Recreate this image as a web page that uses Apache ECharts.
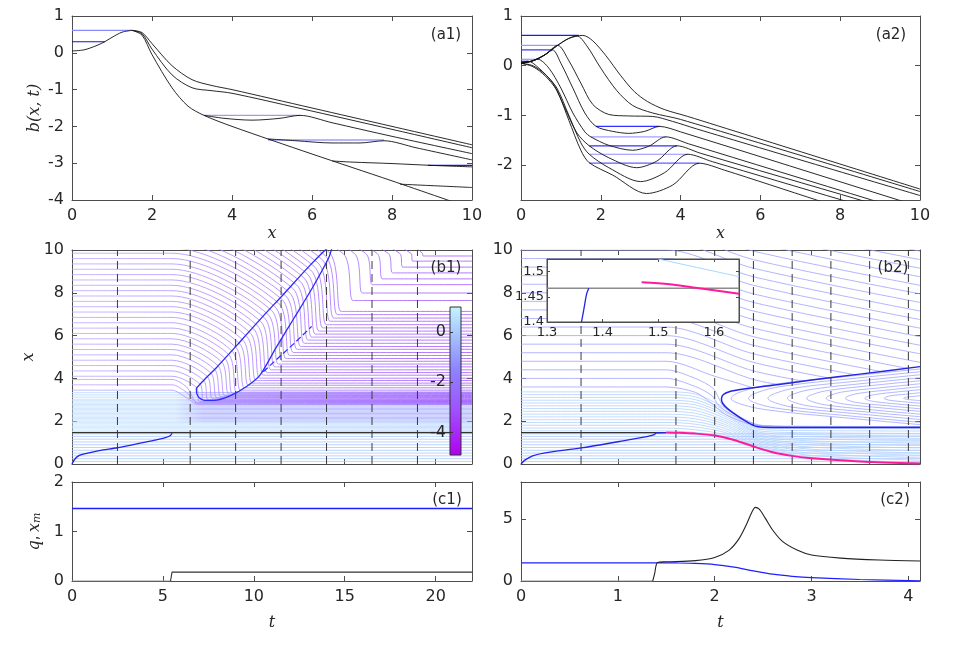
<!DOCTYPE html>
<html><head><meta charset="utf-8">
<script src="https://cdn.jsdelivr.net/npm/echarts@6/dist/echarts.min.js"></script>
<style>html,body{margin:0;padding:0;background:#fff}#c{width:969px;height:647px}</style>
</head><body><div id="c"></div><script>
// ---------------- data: panel a1 ----------------
const a1Base = [[0,0.05],[0.3,0.08],[0.6,0.19],[0.8,0.29],[1.0,0.42],[1.25,0.56],[1.5,0.61]];
const a1Top = [[1.5,0.61],[1.75,0.55],[2.0,0.25],[2.5,-0.35],[3.0,-0.73],[3.5,-0.89],[4.0,-1.0],[6.0,-1.5],[8.0,-2.0],[10,-2.5]];
const a1Second = [[1.5,0.61],[1.75,0.52],[2.0,0.1],[2.5,-0.6],[3.0,-0.95],[3.5,-1.03],[4.0,-1.1],[5.7,-1.51],[8.0,-2.08],[10,-2.58]];
const a1Envelope = [[1.5,0.61],[1.75,0.48],[2.0,-0.05],[2.5,-0.95],[2.9,-1.45],[3.3,-1.7],[4.0,-2.0],[6.0,-2.75],[8.0,-3.48],[10,-4.23]];
const a1Bed1 = [[3.3,-1.7],[3.8,-1.78],[4.5,-1.83],[5.2,-1.78],[5.7,-1.7],[6.5,-1.9],[8,-2.27],[10,-2.74]];
const a1Bed2 = [[4.9,-2.34],[5.6,-2.39],[6.5,-2.45],[7.2,-2.45],[7.8,-2.39],[8.6,-2.58],[10,-2.91]];
const a1Bed3 = [[6.5,-2.94],[7.0,-2.97],[8.0,-3.01],[9.0,-3.06],[10,-3.1]];
const a1Bed4 = [[8.2,-3.57],[9.0,-3.61],[10,-3.66]];
const a1LakeLevel = [0.61,0.3,-1.7,-2.37,-3.06];
const a1LakeStart = [0,0,3.3,4.9,8.9];
const a1LakeEnd = [1.5,0.82,5.7,7.8,10];
// ---------------- data: panel a2 ----------------
const a2T0 = [[0,0.05],[0.3,0.1],[0.6,0.22],[0.9,0.4],[1.2,0.55],[1.55,0.61],[1.8,0.5],[2.13,0.2],[2.5,-0.2],[2.84,-0.52],[3.17,-0.72],[3.59,-0.88],[4.18,-1.02],[10,-2.48]];
const a2T1 = [[0,0.05],[0.3,0.1],[0.6,0.22],[0.9,0.4],[1.2,0.55],[1.4,0.6],[1.65,0.4],[2.0,-0.05],[2.4,-0.5],[2.8,-0.8],[3.3,-0.95],[4.0,-1.08],[10,-2.53]];
const a2T2 = [[0,0.05],[0.3,0.1],[0.6,0.22],[0.92,0.41],[1.2,0.1],[1.5,-0.35],[1.8,-0.78],[2.2,-0.98],[2.7,-1.01],[3.3,-1.02],[3.8,-1.12],[4.4,-1.27],[10,-2.61]];
const a2T3 = [[0,0.05],[0.3,0.1],[0.6,0.22],[0.79,0.32],[1.0,0.05],[1.3,-0.45],[1.6,-0.95],[1.88,-1.22],[2.3,-1.32],[2.7,-1.36],[3.1,-1.32],[3.47,-1.22],[4.0,-1.33],[9.46,-2.7],[10,-2.83]];
const a2T4 = [[0,0.05],[0.2,0.08],[0.42,0.13],[0.7,-0.05],[1.0,-0.45],[1.3,-0.95],[1.6,-1.33],[1.75,-1.43],[2.2,-1.6],[2.8,-1.7],[3.2,-1.62],[3.63,-1.43],[4.2,-1.57],[8.79,-2.7],[9.5,-2.87]];
const a2T5 = [[0,0.07],[0.18,0.09],[0.45,-0.05],[0.8,-0.35],[1.1,-0.85],[1.4,-1.35],[1.71,-1.61],[2.2,-1.85],[2.9,-2.05],[3.4,-1.92],[3.91,-1.61],[4.5,-1.76],[8.5,-2.7],[9.2,-2.87]];
const a2T6 = [[0,0.05],[0.3,0.0],[0.6,-0.17],[0.9,-0.45],[1.2,-1.0],[1.5,-1.55],[1.71,-1.78],[2.2,-2.05],[3.0,-2.33],[3.6,-2.15],[4.18,-1.78],[4.8,-1.93],[8.04,-2.7],[8.8,-2.88]];
const a2T7 = [[0,0.05],[0.3,-0.02],[0.6,-0.2],[0.9,-0.5],[1.2,-1.1],[1.5,-1.7],[1.71,-1.95],[2.3,-2.2],[3.15,-2.57],[3.8,-2.4],[4.47,-1.96],[5.1,-2.1],[7.41,-2.7],[8.2,-2.9]];
const a2LakeLevel = [0.61,0.41,0.32,0.13,0.09,-1.22,-1.43,-1.61,-1.78,-1.96];
const a2LakeStart = [0,0,0,0,0,1.88,1.75,1.71,1.71,1.71];
const a2LakeEnd = [1.45,0.92,0.79,0.42,0.18,3.47,3.63,3.91,4.18,4.47];
// ---------------- data: panel b1 ----------------
const b1LowLevels = [0.12,0.25,0.38,0.51,0.64,0.77,0.9,1.03,1.16,1.29,1.41];
const b1BandLevels = [1.52,1.58,1.64,1.7,1.76,1.82,1.88,1.94,2.0,2.06,2.12,2.18,2.24,2.3,2.36,2.42,2.48,2.54,2.6,2.66,2.72,2.78,2.84,2.9,2.96,3.02,3.1,3.18,3.26,3.34];
const b1FanLevel = [3.45,3.7,3.95];
const b1FanMid = [3.1,3.35,3.6];
const b1FanEnd = [2.8,2.84,2.88];
const b1StartLevel = [4.1,4.35,4.6,4.85,5.1,5.35,5.6,5.85,6.1,6.35,6.6,6.85,7.1,7.35,7.6,7.85,8.1,8.35,8.6,8.85,9.1,9.35,9.6,9.85,10.1,10.35,10.6,10.85,11.1,11.35,11.6,11.85,12.1,12.35,12.6,12.85,13.1,13.35,13.6,13.85,14.1,14.35,14.6,14.85,15.1,15.35];
const b1ShockT = [6.86,7.05,7.25,7.45,7.64,7.84,8.03,8.23,8.42,8.62,8.81,9.01,9.21,9.40,9.60,9.79,9.99,10.18,10.38,10.58,10.77,10.97,11.16,11.36,11.55,11.75,11.94,12.14,12.34,12.53,12.73,12.92,13.12,13.31,13.51,13.71,13.9,14.1,14.9,15.53,16.15,16.78,17.4,18.03,18.65,19.28];
const b1ShockX = [3.56,3.73,3.90,4.08,4.25,4.42,4.59,4.77,4.93,5.11,5.27,5.45,5.63,5.79,5.97,6.14,6.31,6.48,6.66,6.83,7.0,7.18,7.35,7.52,7.69,7.86,8.03,8.21,8.38,8.55,8.72,8.90,9.07,9.24,9.41,9.59,9.76,9.93,9.84,9.84,9.84,9.84,9.84,9.84,9.84,9.84];
const b1LandT = [7.0,7.24,7.48,7.72,7.96,8.18,8.4,8.63,8.82,9.06,9.27,9.48,9.7,9.9,10.12,10.32,10.53,10.73,10.94,11.15,11.35,11.57,11.77,11.97,12.17,12.38,12.58,12.78,12.99,13.19,13.39,13.59,13.8,13.99,14.2,14.4,14.6,14.8,15.45,15.97,16.52,17.07,17.63,18.19,18.74,19.3];
const b1EndLevel = [2.92,2.96,3.0,3.05,3.1,3.15,3.2,3.26,3.3,3.36,3.45,3.56,3.68,3.78,3.9,4.01,4.15,4.27,4.40,4.54,4.67,4.8,4.93,5.07,5.21,5.36,5.49,5.64,5.79,5.93,6.07,6.21,6.36,6.51,6.67,6.82,6.98,7.13,7.64,7.99,8.38,8.65,8.93,9.2,9.48,9.72];
const b1Front = [[0,0],[0.15,0.22],[0.4,0.4],[0.8,0.5],[1.5,0.63],[2.5,0.76],[3.5,0.93],[4.5,1.1],[5.1,1.22],[5.4,1.32],[5.5,1.44]];
const b1Loop = [[6.84,3.54],[7.3,3.96],[7.94,4.5],[9.23,5.7],[10.5,6.9],[11.6,7.9],[13.0,9.2],[14.0,10.05],[14.3,10.1],[14.1,9.6],[13.2,8.2],[12.2,6.8],[11.2,5.4],[10.34,4.15],[9.6,3.62],[8.69,3.18],[7.8,2.97],[7.3,2.97],[7.0,3.1],[6.86,3.3],[6.84,3.54]];
const b1LoopInner = [[10.52,4.31],[11.4,5.0],[12.3,5.7],[13.18,6.43]];
const b1Dashed = [2.5,6.5,9,11.5,14,16.5,19];
const xmLevel = 1.467;
// ---------------- data: panel b2 ----------------
const b2LowLevels = [0.12,0.25,0.38,0.51,0.64,0.77,0.9,1.03,1.16,1.29,1.41];
const b2BandT = [0,1.5,1.8,2.1,2.45,3.0,4.12];
const b2Band = [
 [1.55,1.55,1.47,1.29,0.77,0.31,0.06],
 [1.68,1.68,1.60,1.38,0.84,0.40,0.18],
 [1.81,1.81,1.73,1.48,0.90,0.50,0.29],
 [1.94,1.94,1.86,1.57,0.97,0.60,0.41],
 [2.07,2.07,1.98,1.67,1.04,0.69,0.52],
 [2.20,2.20,2.11,1.77,1.10,0.79,0.63],
 [2.33,2.33,2.24,1.86,1.17,0.89,0.75],
 [2.46,2.46,2.37,1.96,1.23,0.98,0.86],
 [2.59,2.59,2.50,2.05,1.30,1.08,0.97],
 [2.72,2.72,2.63,2.15,1.36,1.18,1.09],
 [2.85,2.85,2.76,2.25,1.43,1.27,1.20],
 [2.98,2.98,2.88,2.34,1.49,1.37,1.31],
 [3.11,3.11,3.01,2.44,1.55,1.46,1.43],
 [3.24,3.24,3.14,2.53,1.62,1.56,1.54],
 [3.37,3.37,3.27,2.63,1.68,1.66,1.65]];
const b2Nose1 = [[0,3.6],[1.3,3.6],[1.5,3.6],[1.8,3.35],[1.95,2.9],[2.1,2.35],[2.3,1.95],[2.5,1.78],[3.0,1.74],[4.12,1.73]];
const b2Nose2 = [[0,4.0],[1.3,4.0],[1.5,4.0],[1.8,3.62],[1.97,3.2],[2.03,2.8],[2.12,2.45],[2.3,2.05],[2.5,1.8],[3.0,1.76],[4.12,1.75]];
const b2Nose3 = [[0,4.4],[1.3,4.4],[1.5,4.4],[1.8,4.0],[1.98,3.55],[2.04,3.1],[2.08,2.75],[2.18,2.4],[2.35,2.0],[2.45,1.8],[3.0,1.72],[4.12,1.72]];
const b2Nose4 = [[0,4.8],[1.3,4.8],[1.5,4.8],[2.0,4.1],[2.4,3.56]];
const b2UpX0 = [5.2,5.6,6.0,6.4,6.8,7.2];
const b2UpMid = [3.95,4.35,4.75,5.15,5.55,5.95];
const b2UpEndT = [2.67,2.93,3.19,3.46,3.72,3.99];
const b2UpEndX = [3.70,3.86,4.01,4.16,4.32,4.47];
const b2RightX0 = [7.6,8.0,8.4,8.8,9.2,9.6,10.0,10.4,10.8,11.2,11.6,12.0,12.4,12.8];
const b2RightMid = [6.35,6.75,7.15,7.55,7.95,8.35,8.75,9.15,9.55,9.95,10.35,10.75,11.15,11.55];
const b2RightEnd = [4.75,5.15,5.55,5.95,6.35,6.75,7.15,7.55,7.95,8.35,8.75,9.15,9.55,9.95];
const b2Nest = [
 [[4.12,4.44],[3.34,4.08],[2.56,3.69],[2.27,3.37],[2.17,3.07],[2.27,2.80],[2.56,2.52],[3.34,2.16],[4.12,1.84]],
 [[4.12,4.31],[3.41,3.99],[2.70,3.63],[2.44,3.34],[2.35,3.07],[2.44,2.82],[2.70,2.57],[3.41,2.24],[4.12,1.95]],
 [[4.12,4.17],[3.49,3.88],[2.86,3.57],[2.63,3.31],[2.55,3.07],[2.63,2.85],[2.86,2.62],[3.49,2.34],[4.12,2.08]],
 [[4.12,4.03],[3.57,3.78],[3.02,3.50],[2.82,3.28],[2.75,3.07],[2.82,2.88],[3.02,2.68],[3.57,2.43],[4.12,2.21]],
 [[4.12,3.89],[3.65,3.68],[3.18,3.44],[3.01,3.25],[2.95,3.07],[3.01,2.91],[3.18,2.74],[3.65,2.52],[4.12,2.33]],
 [[4.12,3.75],[3.73,3.57],[3.34,3.38],[3.20,3.22],[3.15,3.07],[3.20,2.94],[3.34,2.80],[3.73,2.62],[4.12,2.46]],
 [[4.12,3.61],[3.81,3.47],[3.50,3.31],[3.39,3.19],[3.35,3.07],[3.39,2.96],[3.50,2.85],[3.81,2.71],[4.12,2.58]],
 [[4.12,3.47],[3.89,3.37],[3.66,3.25],[3.58,3.16],[3.55,3.07],[3.58,2.99],[3.66,2.91],[3.89,2.80],[4.12,2.71]],
 [[4.12,3.33],[3.97,3.26],[3.82,3.19],[3.77,3.13],[3.75,3.07],[3.77,3.02],[3.82,2.97],[3.97,2.90],[4.12,2.84]],
 [[4.12,3.19],[4.05,3.16],[3.98,3.12],[3.96,3.10],[3.95,3.07],[3.96,3.05],[3.98,3.02],[4.05,2.99],[4.12,2.96]]];
const b2Loop = [[4.12,4.55],[3.5,4.2],[3.0,3.92],[2.6,3.68],[2.3,3.5],[2.15,3.38],[2.09,3.25],[2.07,3.05],[2.08,2.85],[2.13,2.6],[2.22,2.3],[2.32,2.0],[2.41,1.78],[2.5,1.72],[3.0,1.7],[4.12,1.7]];
const b2Front = [[0,0],[0.04,0.18],[0.12,0.38],[0.25,0.52],[0.62,0.75],[1.0,1.04],[1.3,1.28],[1.37,1.36],[1.4,1.45],[1.5,1.47]];
const xmDrop = [[1.5,1.47],[1.6,1.46],[1.8,1.42],[2.0,1.33],[2.2,1.12],[2.4,0.82],[2.6,0.55],[2.8,0.38],[3.0,0.27],[3.5,0.12],[4.12,0.02]];
const b2Dashed = [0.62,1.6,2.0,2.4,2.8,3.2,3.6,4.0];
// ---------------- data: inset ----------------
const insetXm = [[1.3,1.467],[1.645,1.467]];
const insetFront = [[1.362,1.4],[1.367,1.43],[1.371,1.455],[1.375,1.467]];
const insetDrop = [[1.47,1.479],[1.52,1.475],[1.56,1.469],[1.6,1.463],[1.645,1.456]];
const insetLight = [[1.5,1.525],[1.645,1.49]];
// ---------------- data: panels c ----------------
const c1Xm = [[0,1.465],[22,1.465]];
const c1QZero = [[0,0],[5.42,0]];
const c1Q = [[5.42,0],[5.5,0.18],[22,0.18]];
const c2QZero = [[0,0],[1.36,0]];
const c2Q = [[1.36,0],[1.38,0.6],[1.41,1.5],[1.5,1.55],[1.8,1.65],[2.0,1.9],[2.15,2.5],[2.25,3.4],[2.33,4.6],[2.38,5.5],[2.42,5.95],[2.46,5.8],[2.52,5.1],[2.6,4.1],[2.7,3.2],[2.85,2.5],[3.0,2.1],[3.3,1.85],[3.7,1.7],[4.12,1.62]];
const c2Xm = [[0,1.47]].concat(xmDrop);
// ---------------- colorbar ----------------
const cbarMax = 1, cbarMin = -4.9;
const cbarTicks = [-4,-2,0];

// ---------------- build ----------------
const FONT = 'DejaVu Sans';
const AX = '#4d4d4d';
const grids = [
  {left:72, top:16, width:400, height:184},
  {left:521, top:16, width:399, height:184},
  {left:72, top:250, width:400, height:214},
  {left:521, top:250, width:399, height:214},
  {left:72, top:482, width:400, height:99},
  {left:521, top:482, width:399, height:99},
  {left:547, top:259, width:192, height:63, show:true, backgroundColor:'#fff', borderColor:AX, borderWidth:1, z:10},
  {left:450, top:307, width:11, height:148, z:20}
];
const axisSpec = [
  {x:[0,10,[0,2,4,6,8,10],true], y:[-4,1,[-4,-3,-2,-1,0,1],true]},
  {x:[0,10,[0,2,4,6,8,10],true], y:[-2.7,1,[-2,-1,0,1],true]},
  {x:[0,22,[0,5,10,15,20],false], y:[0,10,[0,2,4,6,8,10],true]},
  {x:[0,4.12,[0,1,2,3,4],false], y:[0,10,[0,2,4,6,8,10],true]},
  {x:[0,22,[0,5,10,15,20],true], y:[0,2,[0,1,2],true]},
  {x:[0,4.12,[0,1,2,3,4],true], y:[0,8,[0,5],true]},
  {x:[1.3,1.645,[1.3,1.4,1.5,1.6],true], y:[1.4,1.525,[1.4,1.45,1.5],true]}
];
function mkAxis(gi, spec, pos, labels, extra){
  const a = {type:'value', gridIndex:gi, min:spec[0], max:spec[1], position:pos,
    axisLine:{show:true, onZero:false, lineStyle:{color:AX, width:1}},
    axisTick:{show:true, inside:true, length:5, lineStyle:{color:AX}, customValues:spec[2]},
    axisLabel:{show:labels, customValues:spec[2], color:'#262626', fontSize:16, fontFamily:FONT, margin:8},
    splitLine:{show:false}};
  return Object.assign(a, extra||{});
}
const nameStyle = {fontFamily:'DejaVu Serif', fontStyle:'italic', fontSize:16, color:'#262626'};
const xAxes = [], yAxes = [];
axisSpec.forEach((s,gi)=>{
  const xe = {}, ye = {};
  if (gi===0||gi===1) Object.assign(xe,{name:'x', nameLocation:'middle', nameGap:26, nameTextStyle:nameStyle});
  if (gi===4||gi===5) Object.assign(xe,{name:'t', nameLocation:'middle', nameGap:34, nameTextStyle:nameStyle});
  if (gi===0) Object.assign(ye,{name:'b(x, t)', nameLocation:'middle', nameGap:29, nameRotate:90, nameTextStyle:nameStyle});
  if (gi===2) Object.assign(ye,{name:'x', nameLocation:'middle', nameGap:35, nameRotate:90, nameTextStyle:nameStyle});
  if (gi===4) Object.assign(ye,{name:'{i|q}{p|,} {i|x}{s|m}', nameLocation:'middle', nameGap:29, nameRotate:90,
     nameTextStyle:{color:'#262626', rich:{i:{fontFamily:'DejaVu Serif', fontStyle:'italic', fontSize:16}, p:{fontFamily:'DejaVu Sans', fontSize:15}, s:{fontFamily:'DejaVu Serif', fontStyle:'italic', fontSize:11, verticalAlign:'bottom', padding:[6,0,0,0]}}}});
  if (gi===6){
    xe.z = 12; ye.z = 12;
    xe.axisLabel = {show:true, customValues:s.x[2], color:'#262626', fontSize:13, fontFamily:FONT, margin:4};
    ye.axisLabel = {show:true, customValues:s.y[2], color:'#262626', fontSize:13, fontFamily:FONT, margin:3};
    xe.axisTick = {show:true, inside:true, length:3, lineStyle:{color:AX}, customValues:s.x[2]};
    ye.axisTick = {show:true, inside:true, length:3, lineStyle:{color:AX}, customValues:s.y[2]};
  }
  xAxes.push(mkAxis(gi, s.x, 'bottom', s.x[3], xe));
  yAxes.push(mkAxis(gi, s.y, 'left', s.y[3], ye));
});
// colorbar axes (index 7)
xAxes.push({type:'value', gridIndex:7, min:0, max:1, show:false});
yAxes.push({type:'value', gridIndex:7, min:cbarMin, max:cbarMax, position:'left', z:20,
  axisLine:{show:false}, splitLine:{show:false},
  axisTick:{show:true, inside:true, length:3, lineStyle:{color:'#333'}, customValues:cbarTicks},
  axisLabel:{show:true, customValues:cbarTicks, color:'#262626', fontSize:16, fontFamily:FONT, margin:4}});
// mirror axes (top / right)
axisSpec.forEach((s,gi)=>{
  const ex = gi===6 ? {z:12, axisTick:{show:true, inside:true, length:3, lineStyle:{color:AX}, customValues:s.x[2]}} : {};
  const ey = gi===6 ? {z:12, axisTick:{show:true, inside:true, length:3, lineStyle:{color:AX}, customValues:s.y[2]}} : {};
  xAxes.push(mkAxis(gi, s.x, 'top', false, ex));
  yAxes.push(mkAxis(gi, s.y, 'right', false, ey));
});

const series = [];
function L(gi, data, color, width, extra){
  const s = {type:'line', xAxisIndex:gi, yAxisIndex:gi, data:data, symbol:'none', showSymbol:false,
    silent:true, animation:false, lineStyle:{color:color, width:width}, z:2};
  return Object.assign(s, extra||{});
}
const SM = {smooth:0.3};
// a1
[a1Base,a1Top,a1Second,a1Envelope,a1Bed1,a1Bed2,a1Bed3,a1Bed4].forEach(d=>series.push(L(0,d,'#111',0.9,Object.assign({z:4},SM))));
const a1LakeColor = ['#8a8aff','#1515d0','#9a9aff','#6a6aff','#1a1add'];
a1LakeLevel.forEach((y,i)=>series.push(L(0,[[a1LakeStart[i],y],[a1LakeEnd[i],y]],a1LakeColor[i],1.2,{z:3})));
// a2
[a2T0,a2T1,a2T2,a2T3,a2T4,a2T5,a2T6,a2T7].forEach(d=>series.push(L(1,d,'#111',0.9,Object.assign({z:4},SM))));
const a2LakeColor = ['#1a1aff','#9a9aff','#3a3aff','#8080ff','#1a1aff','#3030ff','#a0a0ff','#3030ff','#9090ff','#6060ff'];
a2LakeLevel.forEach((y,i)=>series.push(L(1,[[a2LakeStart[i],y],[a2LakeEnd[i],y]],a2LakeColor[i],1.2,{z:3})));
// b1
const G = echarts.graphic.LinearGradient;
b1LowLevels.forEach(y=>series.push(L(2,[[0,y],[22,y]],'#aac8ff',0.8)));
b1BandLevels.forEach(y=>{
  const col = y < 1.95 ? new G(0,0,1,0,[{offset:0,color:'#c8e6ff'},{offset:1,color:'#b4d0ff'}])
    : new G(0,0,1,0,[{offset:0,color:'#c4e0ff'},{offset:0.26,color:'#c4e0ff'},{offset:0.33,color:'#a6acff'},{offset:1,color:'#a6acff'}]);
  series.push(L(2,[[0,y],[22,y]],col,0.8));
});
function purple(){ return new G(0,0,1,0,[{offset:0,color:'#bca8ff'},{offset:0.35,color:'#ad88ff'},{offset:1,color:'#a050ff'}]); }
b1FanLevel.forEach((x0,i)=>{
  series.push(L(2,[[0,x0],[5.2,x0],[5.5,x0],[6.3,b1FanMid[i]],[6.9,b1FanEnd[i]],[7.5,b1FanEnd[i]],[22,b1FanEnd[i]]],purple(),0.8,{smooth:0.3}));
});
b1StartLevel.forEach((x0,i)=>{
  const tc=b1LandT[i], xf=b1EndLevel[i];
  series.push(L(2,[[0,x0],[5.2,x0],[5.5,x0],[b1ShockT[i],b1ShockX[i]],[tc,xf],[tc+0.6,xf],[22,xf]],purple(),0.8,{smooth:0.3}));
});
b1Dashed.forEach(t=>series.push(L(2,[[t,0],[t,10]],'#3a3a3a',1,{z:5, lineStyle:{color:'#3a3a3a', width:1, type:[8,5]}})));
series.push(L(2,[[0,xmLevel],[22,xmLevel]],'#333',1.3,{z:6}));
series.push(L(2,b1Front,'#2424e6',1.3,Object.assign({z:6},SM)));
series.push(L(2,b1Loop,'#2b2bff',1.3,{z:6, smooth:0.25}));
series.push(L(2,b1LoopInner,'#2b2bff',1.2,{z:6, lineStyle:{color:'#2b2bff', width:1.2, type:[6,3]}}));
// b2
b2LowLevels.forEach(y=>series.push(L(3,[[0,y],[4.12,y]],'#a8c6ff',0.8)));
b2Band.forEach(r=>series.push(L(3,b2BandT.map((t,j)=>[t,r[j]]),'#b0d0ff',0.8,{smooth:0.3})));
[b2Nose1,b2Nose2,b2Nose3,b2Nose4].forEach(d=>series.push(L(3,d,'#9ea2ff',0.8,{smooth:0.3})));
b2UpX0.forEach((x0,i)=>series.push(L(3,[[0,x0],[1.3,x0],[1.5,x0],[2.4,b2UpMid[i]],[b2UpEndT[i],b2UpEndX[i]]],'#9ea2ff',0.8,Object.assign({},SM))));
b2RightX0.forEach((x0,i)=>series.push(L(3,[[0,x0],[1.3,x0],[1.5,x0],[2.4,b2RightMid[i]],[4.12,b2RightEnd[i]]],'#9ea2ff',0.8,Object.assign({},SM))));
b2Nest.forEach(d=>series.push(L(3,d,'#a0a4ff',0.8,{smooth:0.4})));
b2Dashed.forEach(t=>series.push(L(3,[[t,0],[t,10]],'#3a3a3a',1,{z:5, lineStyle:{color:'#3a3a3a', width:1, type:[8,5]}})));
series.push(L(3,[[0,xmLevel],[1.5,xmLevel]],'#333',1.3,{z:6}));
series.push(L(3,b2Front,'#2424e6',1.3,Object.assign({z:6},SM)));
series.push(L(3,xmDrop,'#ff1a9c',2,Object.assign({z:7},SM)));
series.push(L(3,b2Loop,'#2424e6',1.5,{z:6, smooth:0.25}));
// inset
series.push(L(6,insetXm,'#8c8c8c',1.6,{z:12}));
series.push(L(6,insetFront,'#2424e6',1.3,{z:12, smooth:0.3}));
series.push(L(6,insetDrop,'#ff1a9c',2,{z:12, smooth:0.3}));
series.push(L(6,insetLight,'#a8d8ff',1,{z:12}));
// c1, c2
series.push(L(4,c1Xm,'#1f1fff',1.3,{z:4}));
series.push(L(4,c1QZero,'#9a9a9a',1.2,{z:4}));
series.push(L(4,c1Q,'#333',1.1,{z:4}));
series.push(L(5,c2Xm,'#1f1fff',1.2,Object.assign({z:4},SM)));
series.push(L(5,c2QZero,'#9a9a9a',1.2,{z:4}));
series.push(L(5,c2Q,'#222',1.1,Object.assign({z:4},SM)));
// colorbar
series.push({type:'custom', xAxisIndex:7, yAxisIndex:7, z:20, silent:true, animation:false, clip:false,
  data:[[0,cbarMax,cbarMin]], encode:{x:0, y:[1,2]},
  renderItem:function(params, api){
    const p1 = api.coord([0, api.value(1)]);
    const p2 = api.coord([1, api.value(2)]);
    return {type:'rect', shape:{x:p1[0], y:p1[1], width:p2[0]-p1[0], height:p2[1]-p1[1]},
      style:{fill:new G(0,0,0,1,[{offset:0,color:'#c6f4ff'},{offset:0.17,color:'#a8c8ff'},{offset:0.42,color:'#8e84ff'},{offset:0.7,color:'#a050ff'},{offset:1,color:'#b000f0'}]),
        stroke:'#333', lineWidth:1}};
  }});

const labelTxt = [['(a1)',446,35],['(a2)',891,35],['(b1)',446,268],['(b2)',893,268],['(c1)',447,500],['(c2)',895,500]];
const graphic = labelTxt.map(l=>({type:'text', x:l[1], y:l[2], z:100,
  style:{text:l[0], fill:'#262626', font:'15px "DejaVu Sans"', fontSize:15, fontFamily:FONT, textAlign:'center', textVerticalAlign:'middle', align:'center', verticalAlign:'middle'}}));

const chart = echarts.init(document.getElementById('c'), null, {renderer:'canvas'});
chart.setOption({animation:false, backgroundColor:'#fff', grid:grids, xAxis:xAxes, yAxis:yAxes, series:series, graphic:graphic});
</script></body></html>
